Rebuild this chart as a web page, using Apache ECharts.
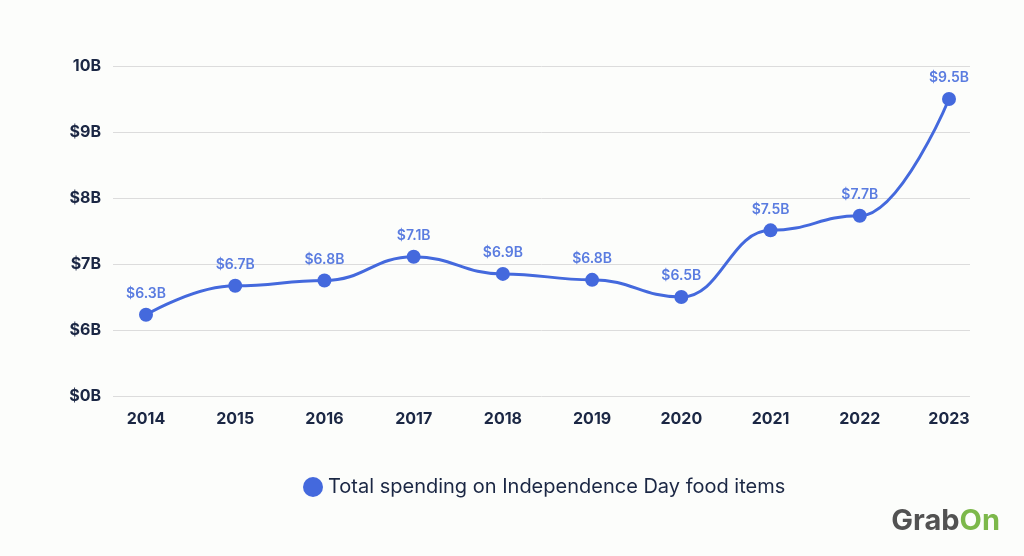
<!DOCTYPE html>
<html>
<head>
<meta charset="utf-8">
<script src="https://cdn.jsdelivr.net/npm/echarts@6/dist/echarts.min.js"></script>
<style>
html,body{margin:0;padding:0;background:#fcfdfb;}
#chart{width:1024px;height:556px;}
</style>
</head>
<body>
<div id="chart"></div>
<script>
var years = ['2014','2015','2016','2017','2018','2019','2020','2021','2022','2023'];
var spending = [6.23, 6.67, 6.75, 7.11, 6.85, 6.76, 6.50, 7.51, 7.73, 9.50];
var valueLabels = ['$6.3B','$6.7B','$6.8B','$7.1B','$6.9B','$6.8B','$6.5B','$7.5B','$7.7B','$9.5B'];
var yTickLabels = {5:'$0B', 6:'$6B', 7:'$7B', 8:'$8B', 9:'$9B', 10:'10B'};
var seriesName = 'Total spending on Independence Day food items';

var FONT = 'Inter, "Open Sans", sans-serif';
var chart = echarts.init(document.getElementById('chart'));
chart.setOption({
  backgroundColor: '#fcfdfb',
  animation: false,
  grid: [
    {left: 113, right: 54, top: 66, height: 330},
    {left: 146, right: 75, top: 66, height: 330}
  ],
  legend: {
    data: [seriesName],
    top: 472,
    left: 298,
    icon: 'circle',
    itemWidth: 20, itemHeight: 20,
    itemGap: 9,
    textStyle: {color: '#1b2744', fontSize: 20, fontFamily: FONT}
  },
  xAxis: [
    {gridIndex: 0, type: 'category', data: years, show: false},
    {
      gridIndex: 1, type: 'category', data: years, boundaryGap: false,
      axisLine: {show: false}, axisTick: {show: false},
      axisLabel: {color: '#1b2744', fontSize: 16, fontWeight: 'bold', fontFamily: FONT, margin: 15},
      splitLine: {show: false}
    }
  ],
  yAxis: [
    {
      gridIndex: 0, type: 'value', min: 5, max: 10, interval: 1,
      axisLine: {show: false}, axisTick: {show: false},
      axisLabel: {
        color: '#1b2744', fontSize: 16, fontWeight: 'bold', fontFamily: FONT, margin: 12,
        formatter: function (v) { return yTickLabels[v] || ''; }
      },
      splitLine: {lineStyle: {color: '#dcdcdc', width: 1}}
    },
    {gridIndex: 1, type: 'value', min: 5, max: 10, interval: 1, show: false, splitLine: {show: false}}
  ],
  series: [{
    name: seriesName,
    type: 'line',
    xAxisIndex: 1, yAxisIndex: 1,
    data: spending,
    smooth: 0.45,
    smoothMonotone: 'x',
    symbol: 'circle',
    symbolSize: 14,
    itemStyle: {color: '#4469dd'},
    lineStyle: {color: '#4469dd', width: 3},
    label: {
      show: true, position: 'top', distance: 7,
      color: '#5a7ce0', fontSize: 14, fontWeight: 600, fontFamily: FONT,
      formatter: function (p) { return valueLabels[p.dataIndex]; }
    }
  }],
  graphic: [{
    type: 'text',
    right: 24, top: 507,
    style: {
      text: '{g|Grab}{o|On}',
      rich: {
        g: {fill: '#525252', fontSize: 29, fontWeight: 'bold', fontFamily: FONT},
        o: {fill: '#7cb84a', fontSize: 29, fontWeight: 'bold', fontFamily: FONT}
      }
    }
  }]
});
</script>
</body>
</html>
